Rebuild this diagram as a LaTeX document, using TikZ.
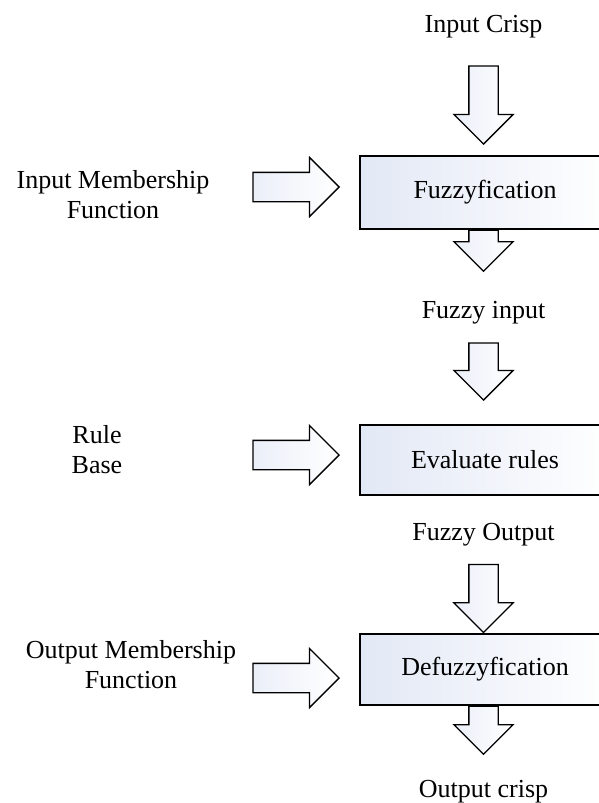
\documentclass[tikz,border=0pt]{standalone}
\usepackage{fontspec}
\setmainfont{Liberation Serif}
\usetikzlibrary{shapes.arrows}
\definecolor{paleblue}{RGB}{226,232,245}

\begin{document}
\begin{tikzpicture}[x=1pt, y=-1pt, line width=1.3pt, font=\fontsize{26}{30}\selectfont,
  stage/.style = {draw, rectangle, minimum width=250pt, minimum height=72pt, inner sep=0pt, left color=paleblue, right color=white},
  blockarrow/.style = {draw, single arrow, single arrow head extend=15pt, single arrow head indent=0pt, inner xsep=0pt, inner ysep=14pt, minimum width=58pt, left color=paleblue!70, right color=white, line join=miter},
  downarrow/.style = {blockarrow, rotate=-90},
  rightarrow/.style = {blockarrow, minimum height=86pt},
  txt/.style = {anchor=base, align=center, inner sep=0pt}]
	\useasboundingbox (0,0) rectangle (598,803);
	% main chain
	\node[txt] (crisp) at (483.5,32) {Input Crisp};
	\node[downarrow, minimum height=78pt, anchor=tip] (a1) at (483.5,145) {};
	\node[stage, minimum height=73pt] (fuz) at (485,192.5) {Fuzzyfication};
	\node[downarrow, minimum height=41pt, anchor=tail] (a2) at (fuz.south -| a1.tip) {};
	\node[txt] (fin) at (483.5,318) {Fuzzy input};
	\node[downarrow, minimum height=57pt, anchor=tip] (a3) at (483.5,401) {};
	\node[stage, minimum height=70pt] (eval) at (485,460) {Evaluate rules};
	\node[txt] (fout) at (483.5,540) {Fuzzy Output};
	\node[stage, minimum height=71pt] (defuz) at (485,669.5) {Defuzzyfication};
	\node[downarrow, minimum height=68pt, anchor=tip] (a4) at (defuz.north -| a1.tip) {};
	\node[downarrow, minimum height=48pt, anchor=tail] (a5) at (defuz.south -| a1.tip) {};
	\node[txt] (ocrisp) at (483.5,797) {Output crisp};
	% side inputs
	\node[txt] (inmf) at (113,218) {Input Membership\\Function};
	\node[rightarrow, anchor=tip] (b1) at (340,187) {};
	\node[txt] (rules) at (97,473) {Rule\\Base};
	\node[rightarrow, anchor=tip] (b2) at (340,455) {};
	\node[txt] (outmf) at (131,688) {Output Membership\\Function};
	\node[rightarrow, anchor=tip] (b3) at (340,678) {};
\end{tikzpicture}
\end{document}
